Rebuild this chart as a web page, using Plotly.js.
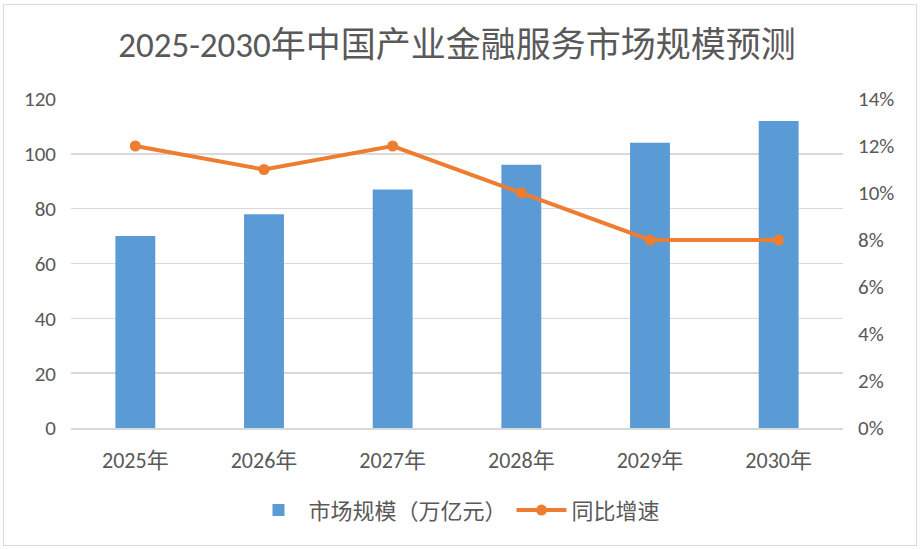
<!DOCTYPE html>
<html>
<head>
<meta charset="utf-8">
<script src="https://cdn.plot.ly/plotly-3.0.1.min.js"></script>
<style>
  html, body { margin: 0; padding: 0; background: #ffffff; }
  #wrap { position: relative; width: 920px; height: 549px; }
  #chart { width: 920px; height: 549px; }
  #frame { position: absolute; left: 3px; top: 4px; width: 912px; height: 540px; border: 1px solid #d9d9d9; pointer-events: none; }
</style>
</head>
<body>
<div id="wrap">
  <div id="chart"></div>
  <div id="frame"></div>
</div>
<script>
const categories = ["2025年", "2026年", "2027年", "2028年", "2029年", "2030年"];
const marketSize = [70, 78, 87, 96, 104, 112];
const growthRate = [0.12, 0.11, 0.12, 0.10, 0.08, 0.08];
const seriesNames = ["市场规模（万亿元）", "同比增速"];
const chartTitle = "2025-2030年中国产业金融服务市场规模预测";

const fontFamily = "Carlito, 'Noto Sans CJK SC', 'Noto Sans', sans-serif";
const textColor = "#595959";

const traces = [
  {
    type: "bar",
    name: seriesNames[0],
    x: categories,
    y: marketSize,
    marker: { color: "#5b9bd5" },
    width: 0.31,
    yaxis: "y"
  },
  {
    type: "scatter",
    mode: "lines+markers",
    name: seriesNames[1],
    x: categories,
    y: growthRate,
    line: { color: "#ed7d31", width: 4 },
    marker: { color: "#ed7d31", size: 11 },
    yaxis: "y2"
  }
];

const layout = {
  width: 920,
  height: 549,
  margin: { l: 71, r: 77, t: 99, b: 121 },
  paper_bgcolor: "#ffffff",
  plot_bgcolor: "#ffffff",
  font: { family: fontFamily, color: textColor, size: 21 },
  title: {
    text: chartTitle,
    font: { family: fontFamily, size: 35, color: textColor },
    x: 0.5, xanchor: "center",
    y: 0.918, yanchor: "middle",
    xref: "paper"
  },
  showlegend: true,
  legend: {
    orientation: "h",
    x: 0.5, xanchor: "center",
    y: -0.25, yanchor: "middle",
    font: { family: fontFamily, size: 22, color: textColor },
    itemwidth: 50,
    traceorder: "normal"
  },
  xaxis: {
    type: "category",
    showgrid: false,
    showline: true,
    linecolor: "#d9d9d9",
    linewidth: 1.5,
    ticks: "",
    ticklabelstandoff: 12,
    tickfont: { family: fontFamily, size: 22, color: textColor },
    fixedrange: true
  },
  yaxis: {
    range: [0, 120],
    dtick: 20,
    tick0: 0,
    showgrid: true,
    gridcolor: "#d9d9d9",
    gridwidth: 1.5,
    zeroline: false,
    showline: false,
    ticks: "",
    ticklabelstandoff: 14,
    tickfont: { family: fontFamily, size: 21, color: textColor }
  },
  yaxis2: {
    overlaying: "y",
    side: "right",
    range: [0, 0.14],
    dtick: 0.02,
    tick0: 0,
    tickformat: ".0%",
    showgrid: false,
    zeroline: false,
    showline: false,
    ticks: "",
    ticklabelstandoff: 14,
    tickfont: { family: fontFamily, size: 21, color: textColor }
  }
};

Plotly.newPlot("chart", traces, layout, { displayModeBar: false, staticPlot: true });
</script>
</body>
</html>
